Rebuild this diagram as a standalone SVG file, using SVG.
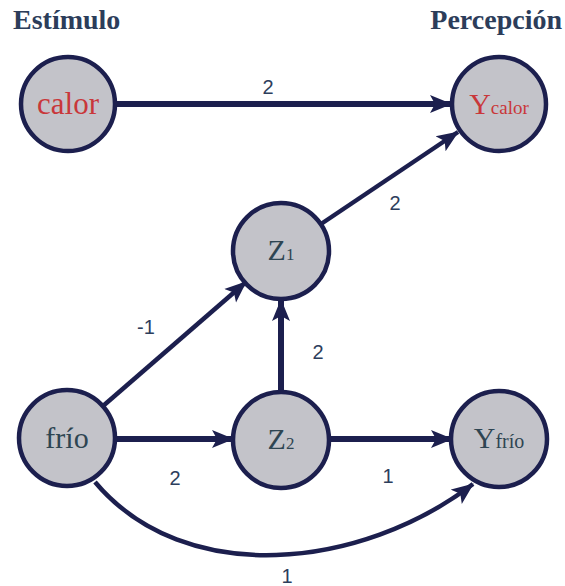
<svg xmlns="http://www.w3.org/2000/svg" width="565" height="586" viewBox="0 0 565 586">
<style>
.node circle{fill:#c3c3c9;stroke:#1c1f4e;stroke-width:4.5}
.nt{font-family:"Liberation Serif","Times New Roman",serif;fill:#2e4552}
.red{fill:#c9373a}
.hdr{font-family:"Liberation Serif","Times New Roman",serif;font-weight:bold;font-size:28px;fill:#2c3d5a}
.lbl{font-family:"Liberation Sans",Arial,sans-serif;font-size:20px;fill:#2d3e5c;text-anchor:middle}
.edge{fill:none;stroke:#1c1f4e;stroke-width:4.5;marker-end:url(#arr)}
.thick{stroke-width:6}
</style>
<defs>
<marker id="arr" markerUnits="userSpaceOnUse" markerWidth="24" markerHeight="20" refX="21" refY="10" orient="auto">
<path d="M0,1 L22,10 L0,19 L5,10 z" fill="#1c1f4e"/>
</marker>
</defs>
<text class="hdr" x="13" y="29">Estímulo</text>
<text class="hdr" x="562" y="29" text-anchor="end">Percepción</text>
<g id="connectors">
<line class="edge thick" x1="115" y1="104" x2="451" y2="104"/>
<line class="edge" x1="321" y1="224" x2="458" y2="132"/>
<line class="edge" x1="103" y1="406" x2="246" y2="282"/>
<line class="edge thick" x1="281" y1="392" x2="281" y2="300"/>
<line class="edge thick" x1="116" y1="439" x2="233" y2="439"/>
<line class="edge thick" x1="330" y1="439" x2="452" y2="439"/>
<path class="edge" d="M95,482 C185,589 362,569 473,484"/>
</g>
<g id="labels">
<text class="lbl" x="268" y="94">2</text>
<text class="lbl" x="395" y="210">2</text>
<text class="lbl" x="146" y="334">-1</text>
<text class="lbl" x="318" y="359">2</text>
<text class="lbl" x="175" y="485">2</text>
<text class="lbl" x="388" y="483">1</text>
<text class="lbl" x="287" y="583">1</text>
</g>
<g id="calor" class="node">
<circle cx="68" cy="104" r="47"/>
<text class="nt red" x="68" y="114" font-size="31" text-anchor="middle">calor</text>
</g>
<g id="Ycalor" class="node">
<circle cx="499" cy="104" r="47"/>
<text class="nt red" x="499" y="114" text-anchor="middle"><tspan font-size="30">Y</tspan><tspan font-size="19">calor</tspan></text>
</g>
<g id="Z1" class="node">
<circle cx="281" cy="251" r="48"/>
<text class="nt" x="281" y="260" text-anchor="middle"><tspan font-size="30">Z</tspan><tspan font-size="17">1</tspan></text>
</g>
<g id="Z2" class="node">
<circle cx="281" cy="440" r="48"/>
<text class="nt" x="281" y="449" text-anchor="middle"><tspan font-size="30">Z</tspan><tspan font-size="17">2</tspan></text>
</g>
<g id="frio" class="node">
<circle cx="67" cy="438" r="48"/>
<text class="nt" x="67" y="448" font-size="30" text-anchor="middle" fill="#34506a">frío</text>
</g>
<g id="Yfrio" class="node">
<circle cx="499" cy="439" r="48"/>
<text class="nt" x="499" y="448" text-anchor="middle"><tspan font-size="30">Y</tspan><tspan font-size="20">frío</tspan></text>
</g>
</svg>
